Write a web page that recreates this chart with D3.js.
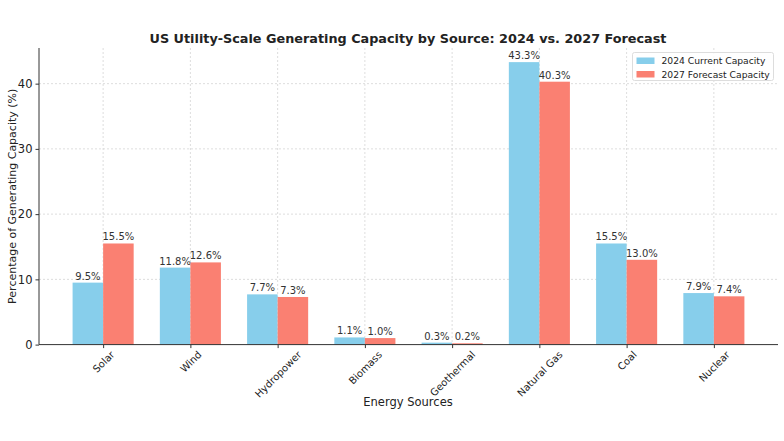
<!DOCTYPE html>
<html>
<head>
<meta charset="utf-8">
<script src="https://cdn.jsdelivr.net/npm/d3@7.9.0/dist/d3.min.js"></script>
<style>
  body { margin: 0; background: #fff; }
  svg { font-family: "DejaVu Sans", sans-serif; }
</style>
</head>
<body>
<svg id="chart" width="784" height="441"></svg>
<script>
// data
const sources = ["Solar", "Wind", "Hydropower", "Biomass", "Geothermal", "Natural Gas", "Coal", "Nuclear"];
const current2024 = [9.5, 11.8, 7.7, 1.1, 0.3, 43.3, 15.5, 7.9];
const forecast2027 = [15.5, 12.6, 7.3, 1.0, 0.2, 40.3, 13.0, 7.4];
const yTicks = [0, 10, 20, 30, 40];
const seriesNames = ["2024 Current Capacity", "2027 Forecast Capacity"];
const seriesColors = ["#87CEEB", "#FA8072"];

const svg = d3.select('#chart');
const plotL = 39, plotR = 778, plotT = 48, plotB = 344.6;
const barW = 0.35;

// x is a linear scale over category index, like matplotlib
const x = d3.scaleLinear().domain([-0.735, 7.735]).range([plotL, plotR]);
const yMax = d3.max(current2024.concat(forecast2027)) * 1.05;
const y = d3.scaleLinear().domain([0, yMax]).range([plotB, plotT]);

// grid
const grid = svg.append('g').attr('stroke', '#d4d4d4').attr('stroke-width', 0.8)
    .attr('stroke-dasharray', '2,2');
yTicks.filter(d => d > 0).forEach(t => {
    grid.append('line').attr('x1', plotL).attr('x2', plotR)
        .attr('y1', y(t)).attr('y2', y(t));
});
sources.forEach((s, i) => {
    grid.append('line').attr('x1', x(i)).attr('x2', x(i))
        .attr('y1', plotT).attr('y2', plotB);
});

// bars
const series = [current2024, forecast2027];
series.forEach((vals, k) => {
    const offset = k === 0 ? -barW : 0;
    vals.forEach((v, i) => {
        const x0 = x(i + offset), x1 = x(i + offset + barW);
        svg.append('rect')
            .attr('x', x0).attr('width', x1 - x0)
            .attr('y', y(v)).attr('height', y(0) - y(v))
            .attr('fill', seriesColors[k]);
        svg.append('text')
            .attr('x', (x0 + x1) / 2).attr('y', y(v) - 3)
            .attr('text-anchor', 'middle')
            .attr('font-size', 10).attr('fill', '#333')
            .text(v.toFixed(1) + '%');
    });
});

// axes
const yAxis = d3.axisLeft(y).tickValues(yTicks).tickSize(3.5).tickPadding(3);
const gy = svg.append('g').attr('transform', `translate(${plotL},0)`).call(yAxis);
gy.select('.domain').attr('d', `M0,${plotT}V${plotB}`).attr('stroke', '#333');
gy.selectAll('.tick line').attr('stroke', '#333');
gy.selectAll('.tick text').attr('font-size', 11.5).attr('fill', '#222')
    .attr('font-family', '"DejaVu Sans", sans-serif');

const xAxis = d3.axisBottom(x).tickValues(d3.range(sources.length))
    .tickFormat(i => sources[i]).tickSize(3.5);
const gx = svg.append('g').attr('transform', `translate(0,${plotB})`).call(xAxis);
gx.select('.domain').attr('d', `M${plotL},0H${plotR}`).attr('stroke', '#333');
gx.selectAll('.tick line').attr('stroke', '#333');
// rotated labels, bbox centred under the tick (matplotlib ha='center')
gx.selectAll('.tick text')
    .attr('font-size', 10).attr('fill', '#222')
    .attr('font-family', '"DejaVu Sans", sans-serif')
    .attr('text-anchor', 'middle')
    .attr('dy', null).attr('x', 0).attr('y', 0)
    .attr('dominant-baseline', 'central')
    .each(function() {
        const w = this.getComputedTextLength();
        const half = (w + 12) / (2 * Math.SQRT2);
        d3.select(this).attr('transform', `translate(0,${4 + half}) rotate(-45)`);
    });

// titles
svg.append('text').attr('x', 408).attr('y', 43).attr('text-anchor', 'middle')
    .attr('font-size', 12.8).attr('font-weight', 'bold').attr('fill', '#222')
    .text('US Utility-Scale Generating Capacity by Source: 2024 vs. 2027 Forecast');
svg.append('text').attr('x', 408).attr('y', 406).attr('text-anchor', 'middle')
    .attr('font-size', 11.5).attr('fill', '#222').text('Energy Sources');
svg.append('text').attr('transform', `translate(16,${(plotT + plotB) / 2}) rotate(-90)`)
    .attr('text-anchor', 'middle').attr('font-size', 11).attr('fill', '#222')
    .text('Percentage of Generating Capacity (%)');

// legend
const lg = svg.append('g').attr('transform', 'translate(632.5,52.5)');
lg.append('rect').attr('width', 141).attr('height', 28).attr('rx', 2)
    .attr('fill', '#fff').attr('fill-opacity', 0.8).attr('stroke', '#ddd');
seriesNames.forEach((n, k) => {
    lg.append('rect').attr('x', 4).attr('y', 5 + k * 13.5).attr('width', 18).attr('height', 6.5)
        .attr('fill', seriesColors[k]);
    lg.append('text').attr('x', 29).attr('y', 11.5 + k * 13.5).attr('font-size', 9.2)
        .attr('fill', '#222').text(n);
});
</script>
</body>
</html>
